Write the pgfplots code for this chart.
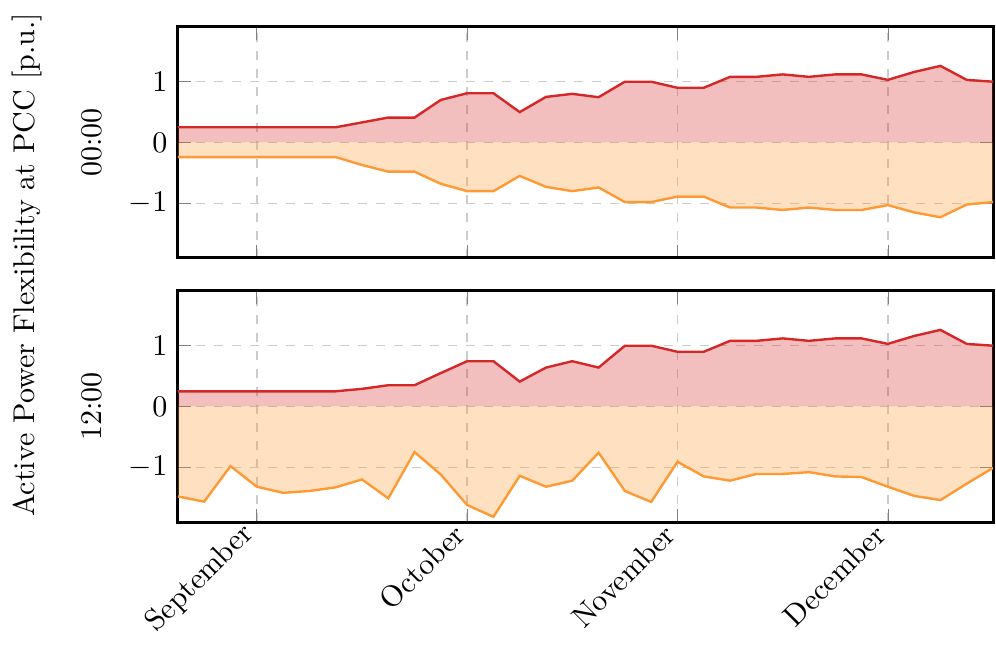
\documentclass[border=0pt]{standalone}
\usepackage{pgfplots}
\pgfplotsset{compat=1.18}
\definecolor{lred}{RGB}{214,39,40}
\definecolor{lorange}{RGB}{255,153,51}
\pgfplotsset{
 panel/.style={
  scale only axis, width=271.7pt, height=77pt,
  xmin=0, xmax=31, ymin=-1.9, ymax=1.9,
  xtick={3,11,19,27}, ytick={-1,0,1},
  grid=major, major grid style={dashed, black!20, line width=0.5pt},
  axis line style={line width=1pt}, tick style={black!50},
  tick align=inside,
  ylabel style={at={(axis description cs:-0.105,0.5)}, anchor=center},
 },
 upfill/.style={draw=none, fill=lred, fill opacity=0.3, forget plot},
 dnfill/.style={draw=none, fill=lorange, fill opacity=0.3, forget plot},
 upline/.style={lred, line width=0.8pt, mark=none},
 dnline/.style={lorange, line width=0.8pt, mark=none},
}
\pgfplotstableread{
x a b c d
0 0.25 -0.24 0.25 -1.48
1 0.25 -0.24 0.25 -1.565
2 0.25 -0.24 0.25 -0.98
3 0.25 -0.24 0.25 -1.32
4 0.25 -0.24 0.25 -1.42
5 0.25 -0.24 0.25 -1.39
6 0.25 -0.24 0.25 -1.33
7 0.33 -0.37 0.29 -1.20
8 0.41 -0.48 0.35 -1.51
9 0.41 -0.48 0.35 -0.75
10 0.70 -0.68 0.55 -1.12
11 0.81 -0.80 0.745 -1.62
12 0.81 -0.80 0.745 -1.815
13 0.50 -0.55 0.41 -1.14
14 0.75 -0.73 0.64 -1.32
15 0.80 -0.80 0.745 -1.22
16 0.745 -0.74 0.64 -0.76
17 1.00 -0.98 1.00 -1.39
18 1.00 -0.98 1.00 -1.57
19 0.90 -0.89 0.90 -0.91
20 0.90 -0.89 0.90 -1.15
21 1.08 -1.07 1.08 -1.22
22 1.08 -1.07 1.08 -1.11
23 1.12 -1.11 1.12 -1.11
24 1.08 -1.07 1.08 -1.08
25 1.12 -1.11 1.12 -1.15
26 1.12 -1.11 1.12 -1.16
27 1.03 -1.03 1.03 -1.32
28 1.16 -1.15 1.16 -1.47
29 1.26 -1.23 1.26 -1.54
30 1.03 -1.02 1.03 -1.27
31 1.00 -0.98 1.00 -1.01
}\datatab
\begin{document}
\begin{tikzpicture}
\begin{axis}[panel, at={(59.3pt,-9pt)}, anchor=north west,
  xticklabels={}, ylabel={00:00}]
\addplot[upfill] table[x=x,y=a]{\datatab} \closedcycle;
\addplot[dnfill] table[x=x,y=b]{\datatab} \closedcycle;
\addplot[upline] table[x=x,y=a]{\datatab};
\addplot[dnline] table[x=x,y=b]{\datatab};
\end{axis}
\begin{axis}[panel, at={(59.3pt,-97pt)}, anchor=north west,
  xticklabels={September,October,November,December},
  xticklabel style={rotate=45, anchor=east}, ylabel={12:00}]
\addplot[upfill] table[x=x,y=c]{\datatab} \closedcycle;
\addplot[dnfill] table[x=x,y=d]{\datatab} \closedcycle;
\addplot[upline] table[x=x,y=c]{\datatab};
\addplot[dnline] table[x=x,y=d]{\datatab};
\end{axis}
\node[rotate=90] at (9pt,-88.3pt) {Active Power Flexibility at PCC [p.u.]};
\pgfresetboundingbox
\path[use as bounding box] (0,0) rectangle (332pt,-218.3pt);
\end{tikzpicture}
\end{document}
